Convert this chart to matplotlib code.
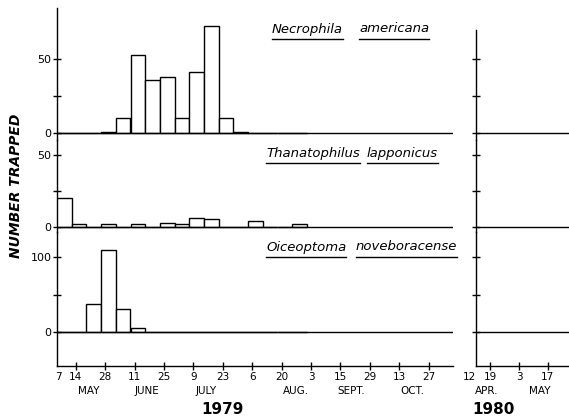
import matplotlib
matplotlib.use("Agg")
import matplotlib.pyplot as plt
from matplotlib.lines import Line2D

W, H = 569, 417

# weekly catches in 1979, week 0 starts at the left axis (about 5 May)
week_start = [0, 7, 14, 21, 28, 35, 42, 49, 56, 63, 70, 77, 84, 91, 98, 105, 112]
necrophila = [0, 0, 0, 1, 10, 53, 36, 38, 10, 41, 72, 10, 1, 0, 0, 0, 0]
thanatophilus = [20, 2, 0, 2, 0, 2, 0, 3, 2, 6.5, 5.5, 0, 0, 4, 0, 0, 2]
oiceoptoma = [0, 0, 37, 109, 31, 5, 0, 0, 0, 0, 0, 0, 0, 0, 0, 0, 0]

species = [("Necrophila", "americana"),
           ("Thanatophilus", "lapponicus"),
           ("Oiceoptoma", "noveboracense")]

ytick_vals = [[0, 25, 50], [0, 25, 50], [0, 50, 100]]
ytick_labels = [["0", "", "50"], ["0", "", "50"], ["0", "", "100"]]

days_1979 = [0.5, 9, 23, 37, 51, 65, 79, 93, 107, 121, 135, 149, 163, 177]
labels_1979 = ["7", "14", "28", "11", "25", "9", "23", "6", "20", "3", "15", "29", "13", "27"]
months_1979 = ["MAY", "JUNE", "JULY", "AUG.", "SEPT.", "OCT."]
month_days_1979 = [15, 43, 71, 114, 140, 169]

days_1980 = [0, 7, 21, 35]
labels_1980 = ["12", "19", "3", "17"]
months_1980 = ["APR.", "MAY"]
month_days_1980 = [5.4, 31]

plt.rcParams['font.family'] = ['DejaVu Sans']

fig = plt.figure(figsize=(W / 100, H / 100), dpi=100)

# layout in pixels: panel rows, zero line position, pixels per trapped beetle
rows = [(8, 140), (140, 232), (232, 366)]
zeros = [133, 227, 332]
scale = [1.48, 1.44, 0.75]
right_top = 30


def rect(x0, x1, y0, y1):
    return [x0 / W, 1 - y1 / H, (x1 - x0) / W, (y1 - y0) / H]


series = [necrophila, thanatophilus, oiceoptoma]
left_axes, right_axes = [], []
for i in range(3):
    y0, y1 = rows[i]
    lo = -(y1 - zeros[i]) / scale[i]
    hi = (zeros[i] - y0) / scale[i]
    for side in ("left", "right"):
        if side == "left":
            ax = fig.add_axes(rect(57, 453, y0, y1))
            ax.set_xlim(0, (453 - 57) / 2.1)
            ax.bar(week_start, series[i], width=7, align='edge',
                   facecolor='white', edgecolor='black', linewidth=1.0, zorder=3)
            left_axes.append(ax)
        else:
            ax = fig.add_axes(rect(476, 569, y0, y1))
            ax.set_xlim(0, (569 - 476) / 2.05)
            right_axes.append(ax)
        ax.set_ylim(lo, hi)
        ax.axhline(0, color='black', lw=1.0, zorder=4)
        ax.patch.set_visible(False)
        for s in ("top", "right"):
            ax.spines[s].set_visible(False)
        if i < 2:
            ax.spines['bottom'].set_visible(False)
            ax.set_xticks([])
        ax.spines['left'].set_linewidth(1.0)
        ax.spines['bottom'].set_linewidth(1.0)
        ax.set_yticks(ytick_vals[i])
        if side == "left":
            ax.set_yticklabels(ytick_labels[i])
        else:
            ax.set_yticklabels([])
        ax.tick_params(axis='y', direction='inout', length=6, width=1.0,
                       labelsize=8, pad=1)
        if side == "right" and i == 0:
            ax.spines['left'].set_bounds(lo, (zeros[0] - right_top) / scale[0])

# x axes of the bottom row
axl, axr = left_axes[2], right_axes[2]
axl.set_xticks(days_1979, labels_1979)
axr.set_xticks(days_1980, labels_1980)
for ax in (axl, axr):
    ax.tick_params(axis='x', direction='inout', length=6, width=1.0,
                   labelsize=7.5, pad=1)
    ax.xaxis.get_major_ticks()[0].tick1line.set_visible(False)
axr.get_xticklabels()[0].set_ha('right')

for ax, names, pos, year, ypos in ((axl, months_1979, month_days_1979, "1979", 78.6),
                                   (axr, months_1980, month_days_1980, "1980", 8.3)):
    for name, d in zip(names, pos):
        ax.annotate(name, xy=(d, 0), xycoords=('data', 'axes fraction'),
                    xytext=(0, -25 * 0.72), textcoords='offset points',
                    ha='center', va='center', fontsize=7.5)
    ax.annotate(year, xy=(ypos, 0), xycoords=('data', 'axes fraction'),
                xytext=(0, -43 * 0.72), textcoords='offset points',
                ha='center', va='center', fontsize=11, fontweight='bold')

fig.text(16 / W, 1 - 186 / H, "NUMBER TRAPPED", rotation=90, ha='center', va='center',
         fontsize=10, fontweight='bold', style='italic')

# species names, each word underlined on its own
word_x = [(272, 359), (266, 367), (266, 356)]
word_y = [29, 153, 247]
texts = []
for (g, s), (xa, xb), yc in zip(species, word_x, word_y):
    for word, x in ((g, xa), (s, xb)):
        t = fig.text(x / W, 1 - yc / H, word, ha='left', va='center',
                     fontsize=9.5, style='italic')
        texts.append((t, yc))

fig.canvas.draw()
r = fig.canvas.get_renderer()
for t, yc in texts:
    bb = t.get_window_extent(r)
    yl = 1 - (yc + 10) / H
    fig.add_artist(Line2D([bb.x0 / W, bb.x1 / W], [yl, yl], color='black', lw=1.0))

fig.savefig("out.png", dpi=100)
